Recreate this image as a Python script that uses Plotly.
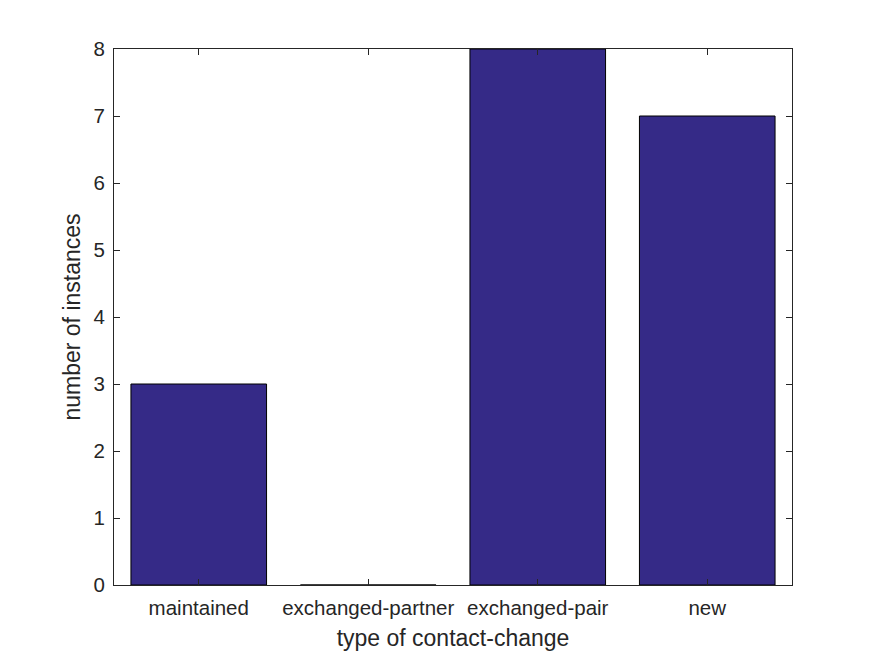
import plotly.graph_objs as go

categories = ['maintained', 'exchanged-partner', 'exchanged-pair', 'new']
instances = [3, 0, 8, 7]

font_family = 'Liberation Sans, Arial, sans-serif'

fig = go.Figure([go.Bar(
    x=[1, 2, 3, 4], y=instances, width=0.8,
    marker=dict(color='#352A87', line=dict(color='#000000', width=1)),
)])

axis_common = dict(
    showline=True, linecolor='#262626', linewidth=1, mirror='ticks',
    ticks='inside', ticklen=6, tickcolor='#262626', showgrid=False, zeroline=False,
    ticklabelstandoff=4, automargin=False,
    tickfont=dict(family=font_family, size=20.5, color='#262626'),
)
fig.update_xaxes(range=[0.5, 4.5], tickvals=[1, 2, 3, 4], ticktext=categories,
                 title=dict(text='type of contact-change', standoff=12,
                            font=dict(family=font_family, size=23, color='#262626')),
                 **axis_common)
fig.update_yaxes(range=[0, 8], dtick=1,
                 title=dict(text='number of instances', standoff=6,
                            font=dict(family=font_family, size=23, color='#262626')),
                 **axis_common)
# page body adds an 8px offset, so shrink the figure to keep the plot area in place
fig.update_layout(width=867, height=648, plot_bgcolor='white', paper_bgcolor='white',
                  margin=dict(l=106, r=83, t=41, b=71), showlegend=False)
fig.write_html('out.html')
